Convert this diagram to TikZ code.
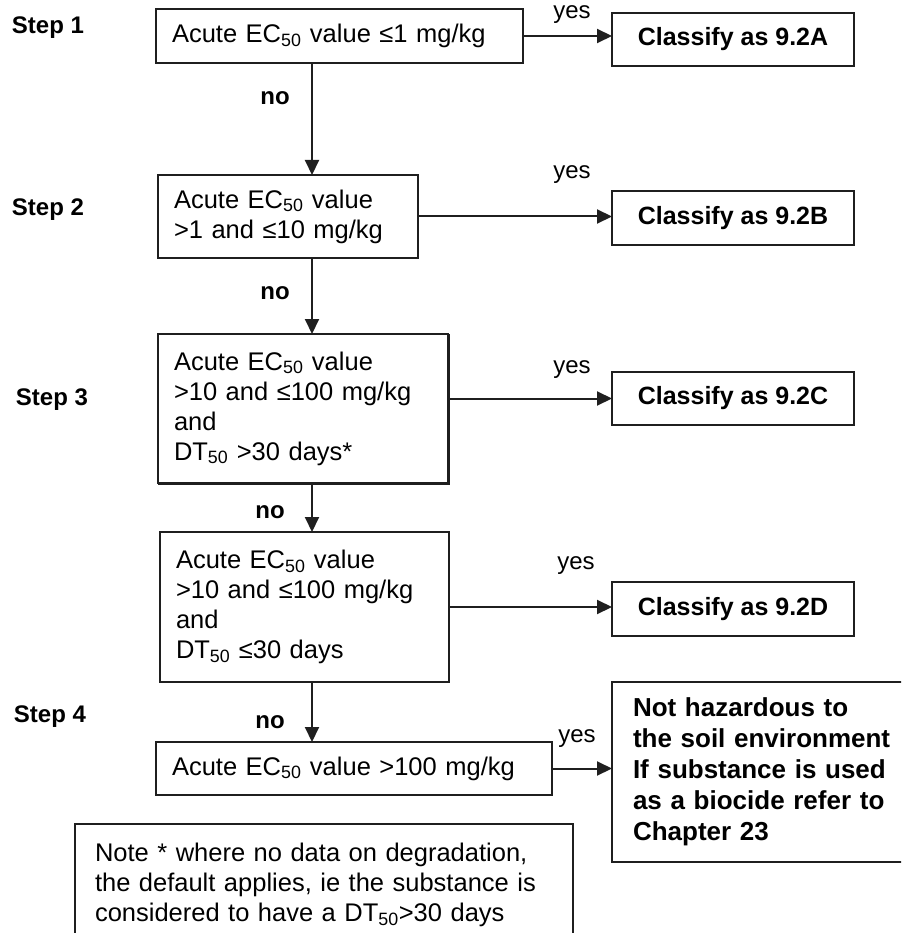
\documentclass[tikz,border=0pt]{standalone}
\usepackage{fontspec}
\setmainfont{Liberation Sans}
\usetikzlibrary{arrows.meta}
\begin{document}
\begin{tikzpicture}[x=1pt,y=-1pt,
  every node/.style={inner sep=0pt, outer sep=0pt},
  ln/.style={draw=black!88, line width=2pt},
  testbox/.style={ln, rectangle, anchor=north west, align=left, inner xsep=16pt,
    font=\fontsize{25.5}{30}\selectfont},
  resultbox/.style={ln, rectangle, anchor=north west, align=center,
    minimum width=242pt, font=\bfseries\fontsize{25}{30}\selectfont},
  steplabel/.style={font=\bfseries\fontsize{24}{28}\selectfont},
  nolabel/.style={font=\bfseries\fontsize{24}{28}\selectfont},
  yeslabel/.style={font=\fontsize{24}{28}\selectfont},
  flow/.style={ln, -{Triangle[length=15pt,width=14pt]}},
]
\useasboundingbox (0,0) rectangle (901,933);
\clip (0,0) rectangle (901,933);

% vertical spine of the "no" path
\coordinate (spine) at (312,0);

% step labels
\node[steplabel] (st1) at (48,28)  {Step 1};
\node[steplabel] (st2) at (48,210) {Step 2};
\node[steplabel] (st3) at (52,400) {Step 3};
\node[steplabel] (st4) at (50,717) {Step 4};

% test boxes
\node[testbox, text width=335pt, minimum height=54pt] (s1) at (156,9)
  {Acute EC\textsubscript{50} value ≤1 mg/kg};
\node[testbox, text width=228pt, minimum height=83pt] (s2) at (158,175)
  {Acute EC\textsubscript{50} value\\>1 and ≤10 mg/kg};
\node[testbox, text width=258pt, minimum height=149pt] (s3) at (158,334)
  {Acute EC\textsubscript{50} value\\>10 and ≤100 mg/kg\\and\\DT\textsubscript{50} >30 days*};
\node[testbox, text width=257pt, minimum height=150pt] (s4) at (160,532)
  {Acute EC\textsubscript{50} value\\>10 and ≤100 mg/kg\\and\\DT\textsubscript{50} ≤30 days};
\node[testbox, text width=364pt, minimum height=53pt] (s5) at (156,742)
  {Acute EC\textsubscript{50} value >100 mg/kg};

% heavier right and bottom edge on the step 3 box
\draw[ln, line width=3pt, line cap=rect] ([yshift=-1pt]s3.north east) -- (s3.south east) -- ([xshift=1pt]s3.south west);

% result boxes
\node[resultbox, minimum height=53pt] (cA) at (612,13)  {Classify as 9.2A};
\node[resultbox, minimum height=54pt] (cB) at (612,191) {Classify as 9.2B};
\node[resultbox, minimum height=53pt] (cC) at (612,372) {Classify as 9.2C};
\node[resultbox, minimum height=54pt] (cD) at (612,582) {Classify as 9.2D};
\node[ln, rectangle, anchor=north west, align=left, inner xsep=21pt,
      text width=280pt, minimum height=180pt,
      font=\bfseries\fontsize{26}{31}\selectfont] (nh) at (612,682)
  {Not hazardous to\\the soil environment\\If substance is used\\as a biocide refer to\\Chapter 23};

% footnote box
\node[ln, rectangle, anchor=north west, align=left, inner xsep=20pt,
      text width=458pt, minimum height=122pt,
      font=\fontsize{25.5}{30}\selectfont] (note) at (75,824)
  {Note * where no data on degradation,\\the default applies, ie the substance is\\considered to have a DT\textsubscript{50}>30 days};

% "no" path
\draw[flow] (s1.south -| spine) -- (s2.north -| spine);
\draw[flow] (s2.south -| spine) -- (s3.north -| spine);
\draw[flow] (s3.south -| spine) -- (s4.north -| spine);
\draw[flow] (s4.south -| spine) -- (s5.north -| spine);
\node[nolabel] (n1) at (275,98)  {no};
\node[nolabel] (n2) at (275,293) {no};
\node[nolabel] (n3) at (270,512) {no};
\node[nolabel] (n4) at (270,722) {no};

% "yes" branches
\draw[flow] (s1.east) -- (s1.east -| cA.west);
\draw[flow] (s2.east) -- (s2.east -| cB.west);
\draw[flow] (s3.east |- cC.west) -- (cC.west);
\draw[flow] (s4.east) -- (s4.east -| cD.west);
\draw[flow] (s5.east) -- (s5.east -| nh.west);
\node[yeslabel] (y1) at (572,15)  {yes};
\node[yeslabel] (y2) at (572,175) {yes};
\node[yeslabel] (y3) at (572,370) {yes};
\node[yeslabel] (y4) at (576,566) {yes};
\node[yeslabel] (y5) at (577,739) {yes};
\end{tikzpicture}
\end{document}
